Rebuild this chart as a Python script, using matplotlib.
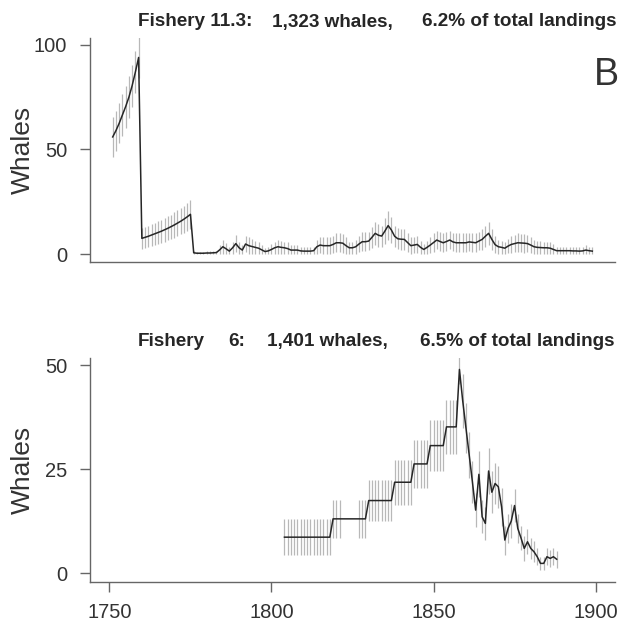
import numpy as np
import matplotlib
matplotlib.use("Agg")
import matplotlib.pyplot as plt

plt.rcParams['font.family'] = ['Liberation Sans', 'DejaVu Sans']

# Fishery 11.3: yearly landed whales with interval half-widths
years_a = np.arange(1751, 1900)
whales_a = [
    56.0, 59.0, 62.5, 66.5, 70.5, 75.0, 80.5, 87.0, 94.0,
    7.5, 8.0, 8.5, 9.1, 9.7, 10.3, 10.9, 11.6, 12.3, 13.1, 13.9, 14.8, 15.7, 16.7, 17.8, 19.0,
    0.6, 0.4, 0.4, 0.4,
    0.5, 0.5, 0.6, 0.7, 2.0, 3.5, 2.5, 1.4, 3.0, 5.0,
    3.0, 1.9, 4.8, 4.0, 3.6, 3.2, 2.8, 2.0, 1.2, 1.5,
    2.2, 3.0, 3.5, 3.2, 3.0, 2.6, 1.9, 1.9, 1.9, 1.5,
    1.4, 1.4, 1.4, 1.6, 3.5, 4.3, 4.0, 4.0, 4.0, 4.6,
    5.4, 5.4, 5.2, 4.0, 3.0, 3.0, 3.5, 4.8, 5.9, 5.9,
    6.2, 8.0, 9.9, 9.0, 8.6, 11.0, 13.6, 11.5, 8.5, 7.3,
    7.1, 7.0, 5.5, 4.0, 4.3, 4.6, 3.2, 2.2, 3.2, 4.3,
    5.5, 6.7, 6.0, 5.4, 6.0, 6.7, 5.8, 5.4, 5.4, 5.4,
    5.4, 5.8, 5.6, 5.4, 6.2, 7.0, 8.5, 9.9, 7.0, 4.5,
    3.5, 3.2, 2.8, 3.8, 4.6, 5.0, 5.4, 5.3, 5.2, 5.0,
    4.3, 3.5, 3.2, 3.1, 3.0, 3.0, 2.8, 2.2, 1.6, 1.6,
    1.6, 1.6, 1.6, 1.5, 1.5, 1.4, 1.5, 1.9, 1.6, 1.4,
]
err_a = [
    9.5, 9.5, 9.5, 10.0, 10.0, 10.0, 10.0, 10.0, 10.0,
    5.0, 5.0, 5.1, 5.2, 5.3, 5.4, 5.5, 5.6, 5.7, 5.8, 6.0, 6.1, 6.3, 6.5, 6.7, 6.9,
    0.8, 0.8, 0.8, 0.8,
    0.8, 0.8, 0.8, 0.8, 2.4, 3.4, 3.0, 1.8, 3.0, 4.0,
    3.0, 2.4, 4.0, 4.0, 3.4, 3.0, 3.0, 2.4, 1.8, 1.8,
    2.4, 3.0, 3.4, 3.0, 3.0, 3.0, 2.4, 2.4, 2.4, 1.8,
    1.8, 1.8, 1.8, 1.8, 3.4, 4.0, 4.0, 4.0, 4.0, 4.0,
    4.5, 4.5, 4.5, 4.0, 3.0, 3.0, 3.4, 4.0, 4.5, 4.5,
    4.5, 5.0, 5.5, 5.5, 5.0, 6.0, 6.8, 6.2, 5.0, 5.0,
    5.0, 5.0, 4.5, 4.0, 4.0, 4.0, 3.0, 2.4, 3.0, 4.0,
    4.5, 4.5, 4.5, 4.5, 4.5, 4.5, 4.5, 4.5, 4.5, 4.5,
    4.5, 4.5, 4.5, 4.5, 4.5, 5.0, 5.0, 5.5, 5.0, 4.0,
    3.4, 3.0, 3.0, 3.4, 4.0, 4.0, 4.5, 4.5, 4.5, 4.0,
    4.0, 3.4, 3.0, 3.0, 3.0, 3.0, 3.0, 2.4, 1.8, 1.8,
    1.8, 1.8, 1.8, 1.8, 1.8, 1.8, 1.8, 2.4, 1.8, 1.8,
]

# Fishery 6
years_b = np.arange(1804, 1889)
whales_b = (
    [8.7] * 15 + [13.1] * 11 + [17.5] * 8 + [21.9] * 6
    + [26.3] * 5 + [30.7] * 5 + [35.2] * 4
    + [49.0, 41.5, 35.0, 28.5, 22.0, 15.2, 23.8, 13.6, 12.0, 24.6,
       19.5, 21.6, 20.8, 16.0, 8.0, 10.8, 12.6, 16.3, 10.8, 8.5,
       6.0, 7.6, 6.0, 5.2, 4.0, 2.4, 2.4, 4.0, 3.6, 4.0, 3.4]
)
err_b = (
    [4.3] * 15 + [4.6] * 3 + [np.nan] * 5 + [4.6] * 3 + [5.0] * 8
    + [5.4] * 6 + [5.8] * 5 + [6.2] * 5 + [6.5] * 4
    + [3.5, 6.5, 6.0, 5.5, 5.0, 4.0, 5.5, 4.0, 4.0, 5.5,
       5.0, 5.0, 5.0, 4.5, 3.5, 3.5, 4.0, 4.0, 3.5, 3.0,
       3.0, 3.0, 2.5, 2.5, 2.0, 1.5, 1.5, 2.0, 2.0, 2.0, 2.0]
)

titles_a = [("Fishery 11.3:", 252), ("1,323 whales,", 393), ("6.2% of total landings", 616)]
titles_b = [("Fishery", 205), ("6:", 245), ("1,401 whales,", 388), ("6.5% of total landings", 614)]

W, H = 630, 624
fig = plt.figure(figsize=(W / 100, H / 100), dpi=100)


def px_axes(left, top, right, bottom):
    return fig.add_axes([left / W, 1 - bottom / H, (right - left) / W, (bottom - top) / H])


def draw_series(ax, years, vals, errs):
    vals = np.asarray(vals, dtype=float)
    errs = np.asarray(errs, dtype=float)
    ok = ~np.isnan(errs)
    lo = np.maximum(vals - errs, 0)
    hi = vals + errs
    ax.vlines(years[ok], lo[ok], hi[ok], color='#b8b8b8', lw=0.9, zorder=1)
    ax.plot(years, vals, color='#262626', lw=1.1, zorder=2)


def style(ax, yticks, show_x):
    for side in ('top', 'right'):
        ax.spines[side].set_visible(False)
    for side in ('left', 'bottom'):
        ax.spines[side].set_color('#666666')
        ax.spines[side].set_linewidth(1.0)
    ax.set_xlim(1744, 1906)
    ax.set_yticks(yticks)
    ax.tick_params(axis='y', direction='out', length=7, width=1, color='#666666',
                   labelsize=14.5, labelcolor='#333333', pad=9.5)
    if show_x:
        ax.set_xticks([1750, 1800, 1850, 1900])
        ax.tick_params(axis='x', direction='out', length=7, width=1, color='#666666',
                       labelsize=14.5, labelcolor='#333333', pad=8)
    else:
        ax.set_xticks([])


def title_parts(parts, baseline):
    for txt, right in parts:
        fig.text(right / W, 1 - baseline / H, txt, ha='right', va='baseline',
                 fontsize=13.6, fontweight='bold', color='#262626')


ax1 = px_axes(90, 38, 615, 262)
draw_series(ax1, years_a, whales_a, err_a)
style(ax1, [0, 50, 100], False)
ax1.set_ylim(-3.8, 103.3)
title_parts(titles_a, 26.5)
fig.text(22.5 / W, 1 - 150 / H, "Whales", rotation=90, ha='center', va='center',
         fontsize=19, color='#333333')
fig.text(619 / W, 1 - 85 / H, "B", ha='right', va='baseline', fontsize=27, color='#333333')

ax2 = px_axes(90, 358, 615, 581.7)
draw_series(ax2, years_b, whales_b, err_b)
style(ax2, [0, 25, 50], True)
ax2.set_ylim(-2.0, 51.75)
title_parts(titles_b, 346)
fig.text(22.5 / W, 1 - 470 / H, "Whales", rotation=90, ha='center', va='center',
         fontsize=19, color='#333333')

fig.savefig("out.png", dpi=100)
